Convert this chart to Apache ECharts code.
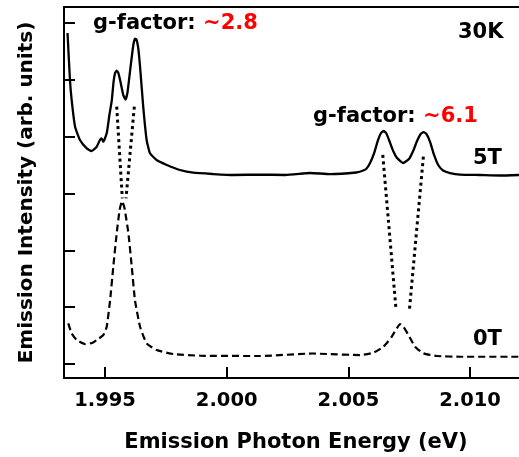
<!DOCTYPE html>
<html>
<head>
<meta charset="utf-8">
<script src="https://cdn.jsdelivr.net/npm/echarts@6/dist/echarts.min.js"></script>
<style>
html,body{margin:0;padding:0;background:#fff;}
#chart{width:519px;height:457px;}
</style>
</head>
<body>
<div id="chart"></div>
<script>
// Photon energy (eV) / intensity (arb. units) pairs
const xTicks = [1.995, 2.000, 2.005, 2.010];
const yTicks = [0, 1, 2, 3, 4, 5, 6];

const energy5T = [1.99346,1.99356,1.99363,1.99377,1.99397,1.99425,1.99445,1.99466,1.99479,1.99486,1.99493,1.99507,1.99518,1.99528,1.99535,1.99541,1.99548,1.99555,1.99562,1.99575,1.99584,1.99592,1.99600,1.99609,1.99617,1.99623,1.99629,1.99636,1.99644,1.99657,1.99671,1.99685,1.99712,1.99754,1.99808,1.99863,1.99945,2.00027,2.00137,2.00240,2.00314,2.00343,2.00425,2.00532,2.00556,2.00573,2.00589,2.00606,2.00622,2.00634,2.00645,2.00655,2.00667,2.00684,2.00700,2.00725,2.00749,2.00766,2.00782,2.00797,2.00809,2.00821,2.00836,2.00852,2.00869,2.00889,2.00918,2.00959,2.01041,2.01123,2.01201];
const intensity5T = [5.824,4.997,4.645,4.176,3.942,3.795,3.748,3.824,3.942,3.971,3.912,4.059,4.381,4.645,4.962,5.115,5.164,5.120,4.997,4.733,4.654,4.770,5.050,5.370,5.630,5.727,5.710,5.578,5.231,4.528,3.942,3.708,3.590,3.502,3.414,3.366,3.343,3.326,3.334,3.326,3.352,3.361,3.343,3.370,3.396,3.431,3.537,3.713,3.942,4.065,4.100,4.065,3.942,3.748,3.625,3.537,3.607,3.748,3.924,4.047,4.082,4.047,3.906,3.678,3.502,3.405,3.361,3.334,3.326,3.317,3.326];

const energy0T = [1.99349,1.99363,1.99384,1.99418,1.99447,1.99466,1.99493,1.99507,1.99521,1.99534,1.99548,1.99560,1.99570,1.99580,1.99596,1.99610,1.99623,1.99644,1.99671,1.99712,1.99781,1.99890,2.00137,2.00355,2.00411,2.00548,2.00603,2.00644,2.00678,2.00699,2.00712,2.00726,2.00747,2.00774,2.00808,2.00863,2.00959,2.01201];
const intensity0T = [0.716,0.540,0.422,0.352,0.370,0.422,0.510,0.656,1.126,1.712,2.300,2.710,2.868,2.745,2.305,1.712,1.126,0.656,0.364,0.246,0.176,0.146,0.141,0.185,0.176,0.158,0.199,0.304,0.480,0.628,0.704,0.656,0.510,0.304,0.188,0.141,0.128,0.128];

// Guide lines connecting split peaks to the 0T peaks: [[x1,y1],[x2,y2]]
const guideA = [[1.995481, 4.528], [1.995711, 2.916]];
const guideB = [[1.996204, 4.528], [1.995863, 2.916]];
const guideC = [[2.006413, 3.678], [2.006959, 0.950]];
const guideD = [[2.008081, 3.648], [2.007506, 0.950]];

const labels = {
  xTitle: 'Emission Photon Energy (eV)',
  yTitle: 'Emission Intensity (arb. units)',
  g1: '~2.8', g2: '~6.1', temp: '30K', field1: '5T', field0: '0T'
};

const zip = (xs, ys) => xs.map((x, i) => [x, ys[i]]);
const FONT = 'DejaVu Sans';

const chart = echarts.init(document.getElementById('chart'));
const dotted = (data) => ({
  type: 'line', data, symbol: 'none', silent: true,
  lineStyle: { color: '#000', width: 3, type: [3, 3.5] }
});
const txt = (t, size, color) => ({ fontFamily: FONT, fontWeight: 'bold', fontSize: size, fill: color });

chart.setOption({
  animation: false,
  backgroundColor: '#fff',
  grid: { left: 64, right: 0, top: 7, bottom: 79, containLabel: false, outerBoundsMode: 'none' },
  xAxis: [{
    type: 'value', min: 1.993315, max: 2.01201,
    axisLine: { show: true, onZero: false, lineStyle: { color: '#000', width: 2 } },
    axisTick: { show: true, inside: true, length: 11, customValues: xTicks, lineStyle: { color: '#000', width: 2 } },
    axisLabel: { show: true, customValues: xTicks, margin: 13, fontFamily: FONT, fontWeight: 'bold', fontSize: 19.5, color: '#000',
      formatter: v => v.toFixed(3) },
    splitLine: { show: false }
  }, {
    type: 'value', position: 'top', min: 1.993315, max: 2.01201,
    axisLine: { show: true, onZero: false, lineStyle: { color: '#000', width: 2 } },
    axisTick: { show: false }, axisLabel: { show: false }, splitLine: { show: false }
  }],
  yAxis: {
    type: 'value', min: -0.246, max: 6.282,
    name: labels.yTitle, nameLocation: 'middle', nameGap: 27, nameMoveOverlap: false,
    nameTextStyle: { fontFamily: FONT, fontWeight: 'bold', fontSize: 20, color: '#000' },
    axisLine: { show: true, onZero: false, lineStyle: { color: '#000', width: 2 } },
    axisTick: { show: true, inside: true, length: 11, customValues: yTicks, lineStyle: { color: '#000', width: 2 } },
    axisLabel: { show: false },
    splitLine: { show: false }
  },
  series: [
    { type: 'line', data: zip(energy5T, intensity5T), symbol: 'none', smooth: 0.15, silent: true,
      lineStyle: { color: '#000', width: 2.3 } },
    { type: 'line', data: zip(energy0T, intensity0T), symbol: 'none', smooth: 0.15, silent: true,
      lineStyle: { color: '#000', width: 2.2, type: [7, 4] } },
    dotted(guideA), dotted(guideB), dotted(guideC), dotted(guideD)
  ],
  graphic: [
    { type: 'text', x: 296, y: 443, style: Object.assign({ text: labels.xTitle, align: 'center', verticalAlign: 'middle' }, txt('', 21, '#000')) },
    { type: 'text', left: 93, top: 13, style: { text: '{a|g-factor: }{b|' + labels.g1 + '}',
      rich: { a: txt('', 21, '#000'), b: txt('', 21, '#ff0000') } } },
    { type: 'text', left: 313, top: 106, style: { text: '{a|g-factor: }{b|' + labels.g2 + '}',
      rich: { a: txt('', 21, '#000'), b: txt('', 21, '#ff0000') } } },
    { type: 'text', left: 458, top: 22, style: Object.assign({ text: labels.temp }, txt('', 21, '#000')) },
    { type: 'text', left: 473, top: 148, style: Object.assign({ text: labels.field1 }, txt('', 21, '#000')) },
    { type: 'text', left: 473, top: 329, style: Object.assign({ text: labels.field0 }, txt('', 21, '#000')) }
  ]
});
</script>
</body>
</html>
